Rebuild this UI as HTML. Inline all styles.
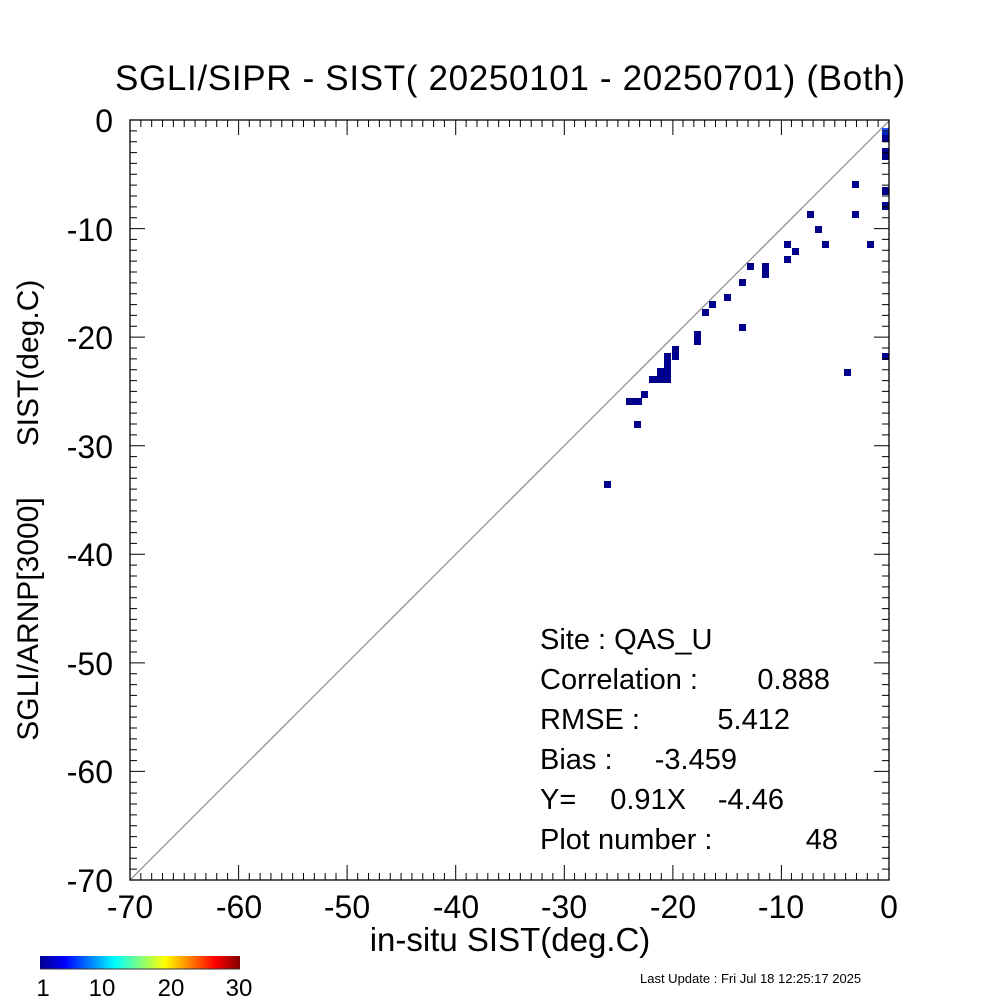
<!DOCTYPE html>
<html><head><style>body{margin:0;background:#fff} text{white-space:pre}</style></head><body>
<svg width="1000" height="1000" xmlns="http://www.w3.org/2000/svg" font-family="Liberation Sans, sans-serif">
<rect width="1000" height="1000" fill="#fff"/>
<text x="510" y="90" font-size="35" text-anchor="middle" textLength="790">SGLI/SIPR - SIST( 20250101 - 20250701) (Both)</text>
<line x1="130" y1="880" x2="889" y2="121" stroke="#777" stroke-width="1"/>
<g fill="#00008c">
<rect x="852" y="181" width="7" height="7"/><rect x="807" y="211" width="7" height="7"/>
<rect x="852" y="211" width="7" height="7"/><rect x="815" y="226" width="7" height="7"/>
<rect x="784" y="241" width="7" height="7"/><rect x="822" y="241" width="7" height="7"/>
<rect x="867" y="241" width="7" height="7"/><rect x="792" y="248" width="7" height="7"/>
<rect x="784" y="256" width="7" height="7"/><rect x="747" y="263" width="7" height="7"/>
<rect x="762" y="263" width="7" height="15"/><rect x="739" y="279" width="7" height="7"/>
<rect x="724" y="294" width="7" height="7"/><rect x="709" y="301" width="7" height="7"/>
<rect x="702" y="309" width="7" height="7"/><rect x="739" y="324" width="7" height="7"/>
<rect x="694" y="331" width="7" height="14"/><rect x="672" y="346" width="7" height="14"/>
<rect x="664" y="353" width="7" height="30"/><rect x="657" y="368" width="14" height="15"/>
<rect x="649" y="376" width="22" height="7"/><rect x="641" y="391" width="7" height="7"/>
<rect x="626" y="398" width="16" height="7"/><rect x="634" y="421" width="7" height="7"/>
<rect x="604" y="481" width="7" height="7"/><rect x="844" y="369" width="7" height="7"/>
<rect x="882" y="135" width="7" height="7"/><rect x="882" y="148" width="7" height="12"/>
<rect x="882" y="187" width="7" height="8"/><rect x="882" y="202" width="7" height="8"/>
<rect x="882" y="353" width="7" height="7"/>
</g>
<rect x="882" y="128" width="7" height="4" fill="#2050ff"/><rect x="882" y="132" width="7" height="3" fill="#0020c0"/>
<rect x="130" y="120" width="759" height="760" stroke="#000" stroke-width="1.3" fill="none"/>
<g font-size="32" text-anchor="end">
<text x="113" y="132">0</text><text x="113" y="241">-10</text><text x="113" y="349">-20</text><text x="113" y="458">-30</text><text x="113" y="566">-40</text><text x="113" y="675">-50</text><text x="113" y="783">-60</text><text x="113" y="892">-70</text>
</g>
<g font-size="32" text-anchor="middle">
<text x="130" y="918">-70</text><text x="239" y="918">-60</text><text x="347" y="918">-50</text><text x="456" y="918">-40</text><text x="564" y="918">-30</text><text x="673" y="918">-20</text><text x="781" y="918">-10</text><text x="889" y="918">0</text>
</g>
<text x="510" y="951" font-size="33" text-anchor="middle">in-situ SIST(deg.C)</text>
<text transform="translate(38,619) rotate(-90)" font-size="30" text-anchor="middle">SGLI/ARNP[3000]</text>
<text transform="translate(38,363) rotate(-90)" font-size="30" text-anchor="middle">SIST(deg.C)</text>
<g font-size="29">
<text x="540" y="649">Site : QAS_U</text>
<text x="540" y="689">Correlation :</text><text x="830" y="689" text-anchor="end">0.888</text>
<text x="540" y="729">RMSE :</text><text x="790" y="729" text-anchor="end">5.412</text>
<text x="540" y="769">Bias :</text><text x="737" y="769" text-anchor="end">-3.459</text>
<text x="540" y="809">Y=</text><text x="686" y="809" text-anchor="end">0.91X</text><text x="784" y="809" text-anchor="end">-4.46</text>
<text x="540" y="849">Plot number :</text><text x="838" y="849" text-anchor="end">48</text>
</g>
<defs><linearGradient id="jet"><stop offset="0" stop-color="#00008f"/><stop offset="0.125" stop-color="#0000ff"/><stop offset="0.375" stop-color="#00ffff"/><stop offset="0.625" stop-color="#ffff00"/><stop offset="0.875" stop-color="#ff0000"/><stop offset="1" stop-color="#800000"/></linearGradient></defs>
<rect x="40" y="956" width="200" height="13" fill="url(#jet)"/>
<line x1="40" y1="969" x2="240" y2="969" stroke="#333"/>
<g font-size="24" text-anchor="middle"><text x="43" y="996">1</text><text x="102" y="996">10</text><text x="171" y="996">20</text><text x="239" y="996">30</text></g>
<text x="640" y="983" font-size="13">Last Update : Fri Jul 18 12:25:17 2025</text>
<g stroke="#000" stroke-width="1">
<path d="
M238.6 880v-15M238.6 120v15M347.1 880v-15M347.1 120v15M455.7 880v-15M455.7 120v15
M564.3 880v-15M564.3 120v15M672.9 880v-15M672.9 120v15M781.4 880v-15M781.4 120v15
M130 771.4h15M889 771.4h-15M130 662.9h15M889 662.9h-15M130 554.3h15M889 554.3h-15
M130 445.7h15M889 445.7h-15M130 337.1h15M889 337.1h-15M130 228.6h15M889 228.6h-15"/>
</g>
<g stroke="#000" stroke-width="1" id="mn"></g>
<script>
var g=document.getElementById('mn'),d='';
for(var i=1;i<70;i++){if(i%10==0)continue;var p=130+i*759/70,q=880-i*760/70;
d+='M'+p+' 880v-7M'+p+' 120v7M130 '+q+'h7M889 '+q+'h-7';}
var e=document.createElementNS('http://www.w3.org/2000/svg','path');e.setAttribute('d',d);g.appendChild(e);
</script>
</svg>
</body></html>
